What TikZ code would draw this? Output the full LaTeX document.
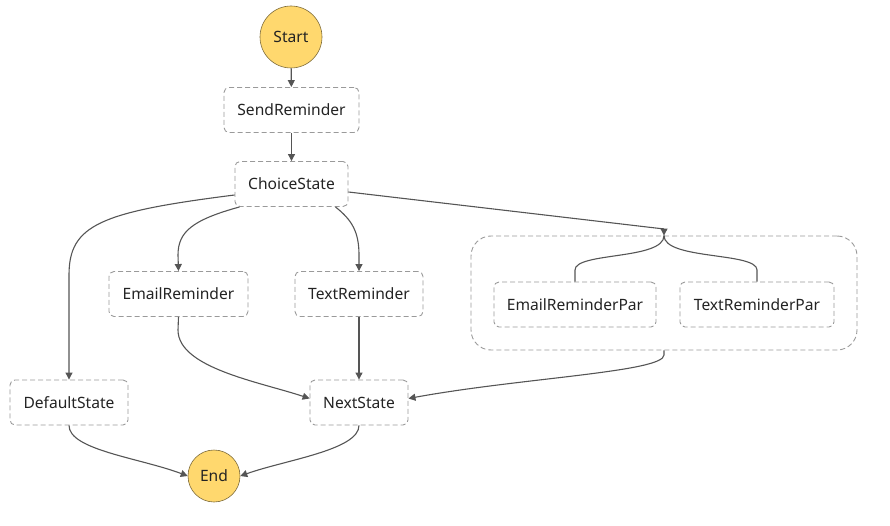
\documentclass[tikz,border=0pt]{standalone}
\usepackage{fontspec}
\setmainfont{Noto Sans}
\usetikzlibrary{arrows.meta,calc}
\definecolor{edge}{HTML}{555555}
\definecolor{boxline}{HTML}{9A9A9A}
\definecolor{termfill}{HTML}{FFD86E}
\definecolor{termline}{HTML}{7D6B3A}
\definecolor{txt}{HTML}{232323}
\tikzset{
  state/.style={draw=boxline, dash pattern=on 5pt off 3pt, rounded corners=5pt, line width=0.9pt,
    minimum height=45pt, inner sep=0pt, font=\fontsize{15.6}{18}\selectfont, text=txt},
  term/.style={circle, draw=termline, fill=termfill, line width=0.6pt, inner sep=0pt,
    font=\fontsize{15.6}{18}\selectfont, text=txt},
  conn/.style={draw=edge, line width=1.1pt, -{Triangle[length=7pt,width=7pt]}},
  plain/.style={draw=edge, line width=1.1pt},
}
\begin{document}
\begin{tikzpicture}[x=1pt,y=-1pt]
\useasboundingbox (0,0) rectangle (890,526);
\node[term, minimum size=62pt] (start) at (291,37) {Start};
\node[state, minimum width=135pt] (send) at (291.5,110) {SendReminder};
\node[state, minimum width=113pt] (choice) at (291.5,184) {ChoiceState};
\node[state, minimum width=139pt] (email) at (178.5,294) {EmailReminder};
\node[state, minimum width=128pt] (text) at (359,294) {TextReminder};
\node[draw=boxline, dash pattern=on 5pt off 3pt, rounded corners=20pt, line width=0.9pt,
      minimum width=386pt, minimum height=114pt, inner sep=0pt] (par) at (664,293) {};
\node[state, minimum width=162pt] (epar) at (575,304.5) {EmailReminderPar};
\node[state, minimum width=154pt] (tpar) at (757,304.5) {TextReminderPar};
\node[state, minimum width=118pt] (default) at (69,402.5) {DefaultState};
\node[state, minimum width=98pt] (next) at (359,402.5) {NextState};
\node[term, minimum size=52pt] (end) at (214,476) {End};

\draw[conn] (start) -- (send);
\draw[conn] (send) -- (choice);
% choice -> default
\draw[conn] ($(choice.west)+(0,11)$) .. controls (100,212) and (69,225) .. (69,275) -- (default.north);
% choice -> email
\draw[conn] ($(choice.south west)+(5,0)$) .. controls (192,220) and (178,232) .. (178,255) -- (email.north);
% choice -> text
\draw[conn] ($(choice.south east)+(-13,0)$) .. controls (352,220) and (359,232) .. (359,255) -- (text.north);
% choice -> parallel
\draw[conn] ($(choice.east)+(0,8)$) -- (630,225) .. controls (652,227.6) and (664,229) .. (par.north);
\draw[plain] (par.north) .. controls (664,260) and (575,252) .. (575,270) -- (epar.north);
\draw[plain] (par.north) .. controls (664,260) and (757,252) .. (757,270) -- (tpar.north);
% to next
\draw[conn] (email.south) -- (178,330) .. controls (178,368) and (260,382) .. ($(next.west)+(0,-4)$);
\draw[conn] (text.south) -- (next.north);
\draw[conn] (par.south) -- (664,355) .. controls (664,372) and (520,378) .. ($(next.east)+(0,-4)$);
% to end
\draw[conn] (default.south) .. controls (69,450) and (140,458) .. (end.west);
\draw[conn] (next.south) .. controls (359,450) and (285,460) .. (end.east);
\end{tikzpicture}
\end{document}
